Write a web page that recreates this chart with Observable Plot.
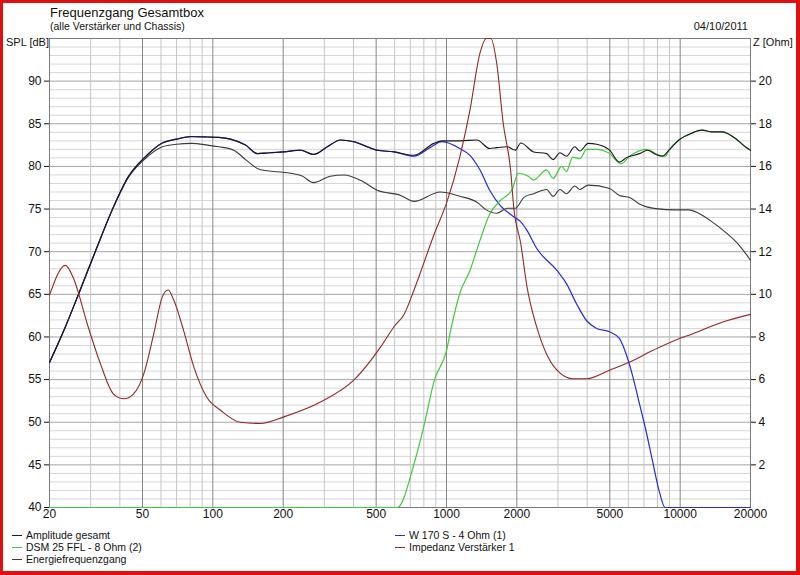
<!DOCTYPE html>
<html>
<head>
<meta charset="utf-8">
<script src="https://cdn.jsdelivr.net/npm/d3@7"></script>
<script src="https://cdn.jsdelivr.net/npm/@observablehq/plot@0.6"></script>
<style>
  html, body { margin: 0; padding: 0; background: #fff; }
  #wrap { position: relative; width: 800px; height: 575px; background: #fff; overflow: hidden;
          font-family: "Liberation Sans", Arial, sans-serif; color: #111; }
  #border { position: absolute; left: 0; top: 0; width: 800px; height: 575px; box-sizing: border-box;
            border: 3px solid #e01010; border-right-width: 4px; border-bottom-width: 4px; pointer-events: none; }
  .t { position: absolute; white-space: nowrap; line-height: 1; }
  #chart { position: absolute; left: 0; top: 0; }
  .leg { position: absolute; font-size: 10.5px; line-height: 12px; white-space: nowrap; color: #111; }
  .leg span.sw { display: inline-block; width: 10px; height: 0; border-top: 1.5px solid; vertical-align: middle; margin-right: 4px; position: relative; top: -1px; }
</style>
</head>
<body>
<div id="wrap">
  <div id="chart"></div>
  <div class="t" style="left:50px; top:6px; font-size:13px;">Frequenzgang Gesamtbox</div>
  <div class="t" style="left:50px; top:21px; font-size:10.5px;">(alle Verstärker und Chassis)</div>
  <div class="t" style="right:52px; top:21px; font-size:11px;">04/10/2011</div>
  <div class="t" style="left:6px; top:37px; font-size:11px;">SPL [dB]</div>
  <div class="t" style="left:753px; top:37px; font-size:11px;">Z [Ohm]</div>
  <div id="legend"></div>
  <div id="border"></div>
</div>
<script>
// ---------- data ----------
const seriesNames = ["Amplitude gesamt", "DSM 25 FFL - 8 Ohm (2)", "Energiefrequenzgang", "W 170 S - 4 Ohm (1)", "Impedanz Verstärker 1"];
const seriesColors = ["#1a1a1a", "#44c844", "#3a3a3a", "#2a2ad0", "#8c2a2a"];

// Amplitude gesamt (dB)
const ampFreq = [20, 23.4, 26.7, 31.6, 37.1, 43.5, 51.3, 60.8, 70, 81, 95, 106, 119, 138, 155, 175, 201, 237, 270, 309, 352, 400, 505, 596, 726, 882, 957, 1140, 1350, 1530, 1640, 1820, 1970, 2080, 2360, 2680, 2860, 3060, 3260, 3540, 3720, 4040, 4390, 4990, 5500, 5870, 6690, 7250, 7870, 8390, 8950, 9880, 11200, 12400, 13700, 15100, 17200, 19000, 20000];
const ampDb   = [57.0, 61.2, 65.1, 70.2, 74.9, 78.8, 81.1, 82.75, 83.2, 83.5, 83.45, 83.4, 83.2, 82.5, 81.5, 81.6, 81.7, 81.9, 81.4, 82.3, 83.1, 82.9, 81.9, 81.7, 81.3, 82.7, 83.0, 83.0, 83.1, 82.1, 82.2, 82.3, 81.9, 82.75, 81.7, 81.5, 80.8, 81.6, 81.2, 82.3, 81.8, 82.7, 82.6, 81.9, 80.5, 81.0, 81.5, 81.9, 81.4, 81.2, 81.9, 83.1, 83.9, 84.25, 84.05, 84.05, 83.3, 82.3, 81.9];

// Energiefrequenzgang (dB)
const energyFreq = [20, 23.4, 26.7, 31.6, 37.1, 43.5, 51.3, 60.8, 70, 81, 95, 106, 123, 138, 160, 215, 240, 270, 318, 364, 440, 505, 636, 726, 940, 1140, 1350, 1480, 1640, 1820, 1970, 2150, 2360, 2680, 2860, 3060, 3260, 3540, 3720, 4040, 4990, 5500, 6080, 6690, 7870, 9550, 10900, 12000, 13700, 15600, 17900, 20000];
const energyDb   = [57.0, 61.2, 65.1, 70.2, 74.9, 78.7, 80.9, 82.3, 82.6, 82.7, 82.5, 82.3, 81.9, 80.8, 79.6, 79.2, 78.9, 78.1, 78.85, 79.0, 78.2, 77.2, 76.6, 75.9, 77.0, 76.5, 75.8, 74.9, 74.5, 75.1, 75.1, 76.4, 76.8, 77.3, 76.5, 77.3, 76.8, 77.7, 77.3, 77.8, 77.4, 76.6, 76.35, 75.6, 75.05, 74.9, 74.9, 74.5, 73.5, 72.3, 70.75, 69.0];

// W 170 S - 4 Ohm (1) (dB)
const wooferFreq = [20, 23.4, 26.7, 31.6, 37.1, 43.5, 51.3, 60.8, 70, 81, 95, 106, 119, 138, 155, 175, 201, 237, 270, 309, 352, 400, 505, 596, 726, 850, 957, 1140, 1260, 1390, 1530, 1700, 1940, 2080, 2210, 2430, 2970, 3260, 3600, 3980, 4390, 4990, 5500, 5870, 6280, 6690, 7140, 7610, 8120, 8620, 20000];
const wooferDb   = [57.0, 61.2, 65.1, 70.2, 74.9, 78.8, 81.1, 82.75, 83.2, 83.5, 83.45, 83.4, 83.2, 82.5, 81.5, 81.6, 81.7, 81.9, 81.4, 82.3, 83.1, 82.9, 81.9, 81.7, 81.2, 82.2, 82.9, 82.1, 81.3, 79.6, 77.2, 75.4, 74.1, 73.5, 72.5, 70.4, 67.8, 66.25, 63.9, 61.9, 61.0, 60.6, 59.8, 58.0, 55.3, 52.2, 49.0, 45.5, 42.0, 40.0, 40.0];

// DSM 25 FFL - 8 Ohm (2) (dB)
const tweeterFreq = [20, 616, 726, 798, 887, 1000, 1050, 1140, 1260, 1390, 1530, 1700, 1910, 2030, 2240, 2360, 2680, 2860, 3110, 3260, 3470, 3720, 3980, 4390, 4990, 5580, 6080, 7140, 8190, 8650, 8950, 9880, 11200, 12400, 13700, 15100, 17200, 19000, 20000];
const tweeterDb   = [40, 40, 45.1, 49.4, 54.9, 58.4, 61.2, 65.1, 67.8, 71.3, 74.4, 76.0, 77.3, 79.2, 78.85, 78.4, 79.6, 78.6, 80.0, 79.4, 81.1, 80.9, 82.0, 82.0, 81.5, 80.3, 81.2, 82.0, 81.3, 81.2, 81.9, 83.1, 83.9, 84.25, 84.05, 84.05, 83.3, 82.3, 81.9];

// Impedanz Verstärker 1 (Ohm, right axis)
const impFreq = [20, 23.4, 25.4, 29.0, 33.0, 37.6, 41.6, 45.7, 50.7, 55.9, 60.8, 64.4, 68.1, 74.9, 82.9, 94.4, 108, 131, 160, 200, 300, 400, 522, 596, 660, 726, 798, 887, 1000, 1140, 1260, 1390, 1480, 1550, 1640, 1750, 1880, 1940, 2080, 2210, 2430, 2680, 2970, 3470, 3980, 4990, 6080, 7610, 9880, 10900, 15000, 20000];
const impOhm  = [9.96, 11.36, 10.72, 8.62, 6.76, 5.32, 5.1, 5.32, 6.28, 8.16, 9.88, 10.2, 9.72, 8.32, 6.6, 5.16, 4.56, 4.0, 3.94, 4.24, 5.04, 5.96, 7.52, 8.48, 9.08, 10.2, 11.44, 12.84, 14.28, 16.44, 18.64, 21.3, 22.0, 22.0, 20.84, 18.0, 15.84, 14.08, 12.36, 10.36, 8.48, 7.2, 6.44, 6.04, 6.04, 6.44, 6.82, 7.36, 7.92, 8.08, 8.68, 9.06];

// axes
const xTickLabels = [20, 50, 100, 200, 500, 1000, 2000, 5000, 10000, 20000];
const splTicks = [40, 45, 50, 55, 60, 65, 70, 75, 80, 85, 90];
const ohmTicks = [2, 4, 6, 8, 10, 12, 14, 16, 18, 20];

// ---------- build tables ----------
const zip = (fs, vs) => fs.map((f, i) => ({f, v: vs[i]}));
const amp = zip(ampFreq, ampDb);
const energy = zip(energyFreq, energyDb);
const woofer = zip(wooferFreq, wooferDb);
const tweeter = zip(tweeterFreq, tweeterDb);
const imp = zip(impFreq, impOhm);

// impedance axis: 0..22 Ohm shares the 40..95 dB range
const ohmToDb = z => 40 + z * 2.5;
const dbToOhm = d => Math.round((d - 40) / 2.5);

const gridFreqs = d3.scaleLog().domain([20, 20000]).ticks();
const minorX = gridFreqs.filter(f => !xTickLabels.includes(f));
const minorY = d3.range(41, 95).filter(d => d % 5 !== 0);
const majorY = d3.range(45, 95, 5);

const curve = "monotone-x";
const chart = Plot.plot({
  width: 800,
  height: 528,
  marginLeft: 49,
  marginRight: 50,
  marginTop: 38,
  marginBottom: 21,
  style: {fontFamily: "'Liberation Sans', Arial, sans-serif", fontSize: "12px", background: "transparent", color: "#111"},
  x: {type: "log", domain: [20, 20000], axis: null},
  y: {domain: [40, 95], axis: null},
  marks: [
    Plot.ruleY(minorY, {stroke: "#d6d6d6", strokeWidth: 1}),
    Plot.ruleY(majorY, {stroke: "#a4a4a4", strokeWidth: 1}),
    Plot.ruleX(minorX, {stroke: "#c4c4c4", strokeWidth: 1}),
    Plot.ruleX(xTickLabels, {stroke: "#858585", strokeWidth: 1}),
    Plot.frame({stroke: "#7a7a7a"}),
    Plot.text(xTickLabels, {x: d => d, frameAnchor: "bottom", dy: 10, text: d => String(d), fill: "#111"}),
    Plot.axisY({anchor: "left", ticks: splTicks, tickSize: 5, tickPadding: 3, label: null}),
    Plot.axisY({anchor: "right", ticks: ohmTicks.map(ohmToDb), tickFormat: dbToOhm, tickSize: 5, tickPadding: 3, label: null}),
    Plot.line(woofer, {x: "f", y: "v", stroke: seriesColors[3], strokeWidth: 1.2, curve}),
    Plot.line(tweeter, {x: "f", y: "v", stroke: seriesColors[1], strokeWidth: 1.2, curve}),
    Plot.line(energy, {x: "f", y: "v", stroke: seriesColors[2], strokeWidth: 1.1, curve}),
    Plot.line(amp, {x: "f", y: "v", stroke: seriesColors[0], strokeWidth: 1.1, curve}),
    Plot.line(imp, {x: "f", y: d => ohmToDb(d.v), stroke: seriesColors[4], strokeWidth: 1.1, curve})
  ]
});
document.getElementById("chart").appendChild(chart);

// ---------- legend ----------
const legendPos = [
  {i: 0, left: 12, top: 529},
  {i: 1, left: 12, top: 541},
  {i: 2, left: 12, top: 553},
  {i: 3, left: 395, top: 529},
  {i: 4, left: 395, top: 541}
];
const legend = document.getElementById("legend");
legendPos.forEach(p => {
  const el = document.createElement("div");
  el.className = "leg";
  el.style.left = p.left + "px";
  el.style.top = p.top + "px";
  const sw = document.createElement("span");
  sw.className = "sw";
  sw.style.borderTopColor = seriesColors[p.i];
  el.appendChild(sw);
  el.appendChild(document.createTextNode(seriesNames[p.i]));
  legend.appendChild(el);
});
</script>
</body>
</html>
